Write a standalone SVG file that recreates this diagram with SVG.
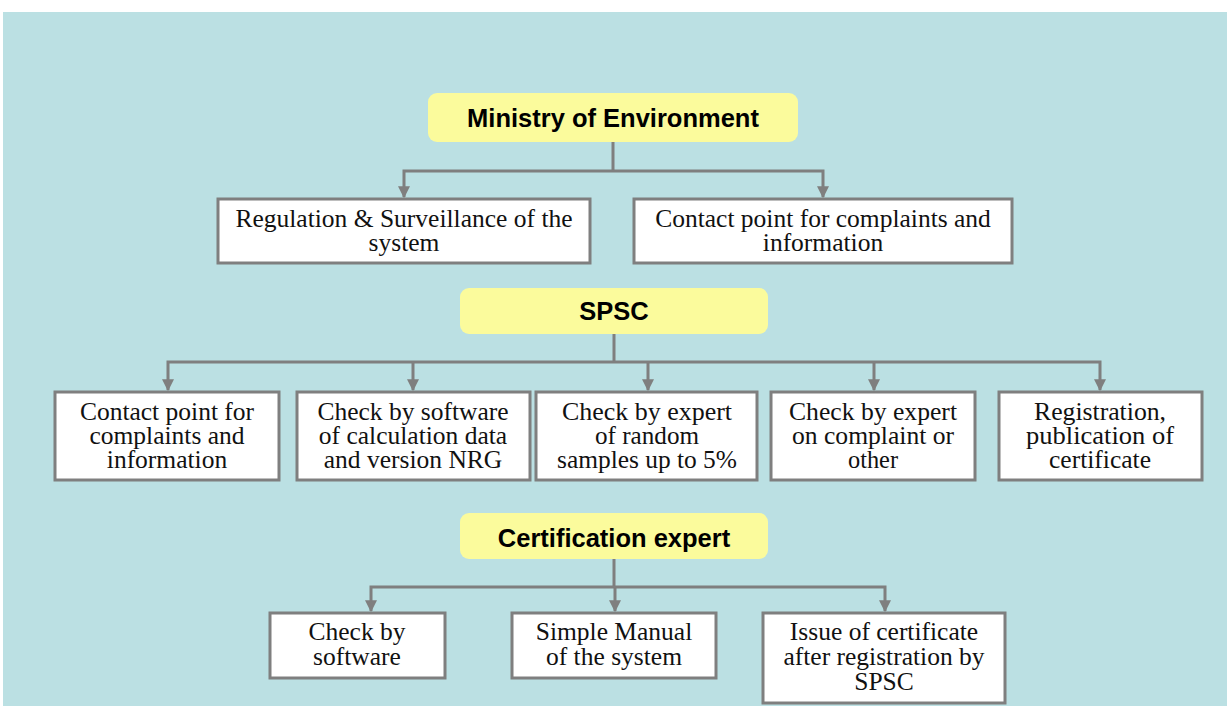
<svg xmlns="http://www.w3.org/2000/svg" width="1227" height="706" viewBox="0 0 1227 706">
<style>
.bg{fill:#bbe0e3}
.title rect{fill:#fbfb9c;stroke:none}
.title text{font-family:"Liberation Sans",Arial,sans-serif;font-weight:bold;font-size:25.5px;fill:#000;text-anchor:middle}
.box rect{fill:#fff;stroke:#7f7f7f;stroke-width:3}
.box text{font-family:"Liberation Serif","Times New Roman",serif;font-size:25.5px;fill:#111;text-anchor:middle}
.conn path{fill:none;stroke:#7f7f7f;stroke-width:3}
</style>
<defs>
<marker id="ah" viewBox="0 0 10 10" refX="9" refY="5" markerWidth="4" markerHeight="4" markerUnits="strokeWidth" orient="auto">
<path d="M0,0 L10,5 L0,10 Z" fill="#7f7f7f"/>
</marker>
</defs>
<rect x="0" y="0" width="1227" height="706" fill="#fff"/>
<rect class="bg" x="3" y="12" width="1224" height="694"/>

<g class="conn">
<path d="M613,142 V171"/>
<path d="M613,171 H404 V197" marker-end="url(#ah)"/>
<path d="M613,171 H823 V197" marker-end="url(#ah)"/>
<path d="M614,334 V362"/>
<path d="M614,362 H168 V390" marker-end="url(#ah)"/>
<path d="M413,362 V390" marker-end="url(#ah)"/>
<path d="M648,362 V390" marker-end="url(#ah)"/>
<path d="M874,362 V390" marker-end="url(#ah)"/>
<path d="M614,362 H1100 V390" marker-end="url(#ah)"/>
<path d="M614,559 V587"/>
<path d="M614,587 H371 V611" marker-end="url(#ah)"/>
<path d="M615,587 V611" marker-end="url(#ah)"/>
<path d="M614,587 H885 V611" marker-end="url(#ah)"/>
</g>

<g id="ministry" class="title"><rect x="428" y="93" width="370" height="49" rx="9"/><text x="613" y="127">Ministry of Environment</text></g>
<g id="regulation" class="box"><rect x="218" y="199" width="372" height="64"/><text x="404" y="227">Regulation &amp; Surveillance of the</text><text x="404" y="251">system</text></g>
<g id="contact1" class="box"><rect x="634" y="199" width="378" height="64"/><text x="823" y="227">Contact point for complaints and</text><text x="823" y="251">information</text></g>

<g id="spsc" class="title"><rect x="460" y="288" width="308" height="46" rx="9"/><text x="614" y="320">SPSC</text></g>
<g id="contact2" class="box"><rect x="55" y="392" width="224" height="88"/><text x="167" y="420">Contact point for</text><text x="167" y="444">complaints and</text><text x="167" y="468">information</text></g>
<g id="checksoft" class="box"><rect x="297" y="392" width="233" height="88"/><text x="413" y="420">Check by software</text><text x="413" y="444">of calculation data</text><text x="413" y="468">and version NRG</text></g>
<g id="checkrandom" class="box"><rect x="536" y="392" width="221" height="88"/><text x="647" y="420" textLength="170" lengthAdjust="spacingAndGlyphs">Check by expert</text><text x="647" y="444" textLength="104" lengthAdjust="spacingAndGlyphs">of random</text><text x="647" y="468" textLength="180" lengthAdjust="spacingAndGlyphs">samples up to 5%</text></g>
<g id="checkcomplaint" class="box"><rect x="771" y="392" width="204" height="88"/><text x="873" y="420" textLength="168" lengthAdjust="spacingAndGlyphs">Check by expert</text><text x="873" y="444" textLength="162" lengthAdjust="spacingAndGlyphs">on complaint or</text><text x="873" y="468" textLength="50" lengthAdjust="spacingAndGlyphs">other</text></g>
<g id="registration" class="box"><rect x="999" y="392" width="203" height="88"/><text x="1100" y="420" textLength="132" lengthAdjust="spacingAndGlyphs">Registration,</text><text x="1100" y="444" textLength="148" lengthAdjust="spacingAndGlyphs">publication of</text><text x="1100" y="468" textLength="102" lengthAdjust="spacingAndGlyphs">certificate</text></g>

<g id="certexpert" class="title"><rect x="460" y="513" width="308" height="46" rx="9"/><text x="614" y="547">Certification expert</text></g>
<g id="checkbysoft" class="box"><rect x="270" y="613" width="175" height="65"/><text x="357" y="640">Check by</text><text x="357" y="665">software</text></g>
<g id="manual" class="box"><rect x="512" y="613" width="204" height="65"/><text x="614" y="640">Simple Manual</text><text x="614" y="665">of the system</text></g>
<g id="issue" class="box"><rect x="763" y="613" width="242" height="90"/><text x="884" y="640">Issue of certificate</text><text x="884" y="665">after registration by</text><text x="884" y="690">SPSC</text></g>
</svg>
